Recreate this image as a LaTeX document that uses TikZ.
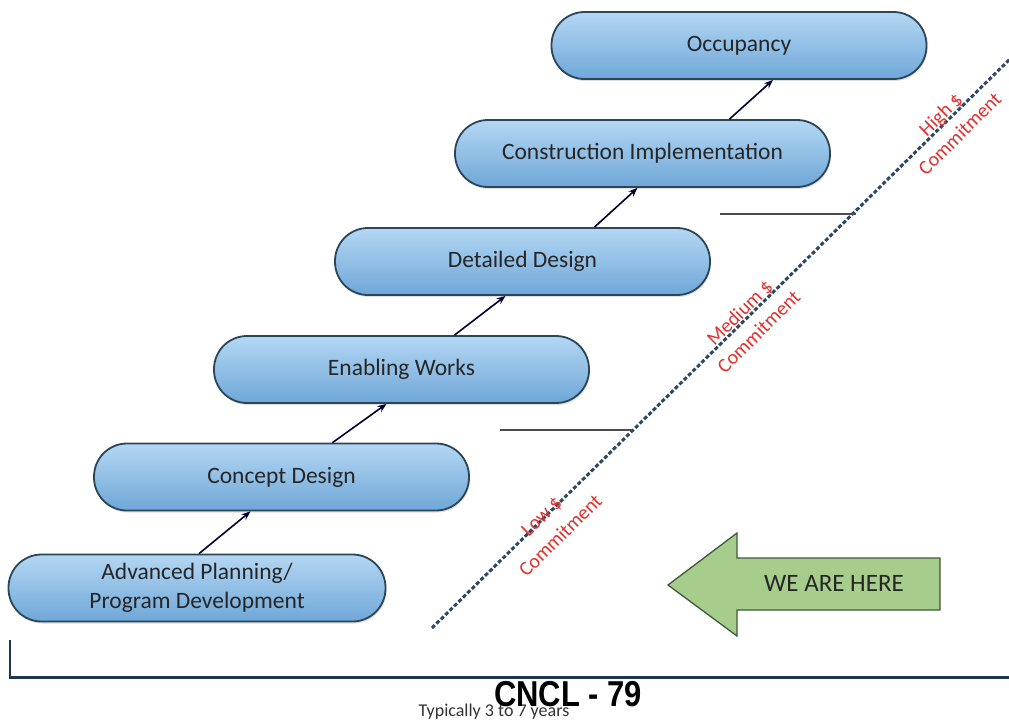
\documentclass[tikz,border=0pt]{standalone}
\usepackage{fontspec}
\setmainfont{Carlito}
\newfontfamily\stampfont{Liberation Sans}
\usetikzlibrary{arrows.meta,calc,shadows}
\definecolor{boxtop}{HTML}{B4D7F3}
\definecolor{boxbot}{HTML}{6FA7D8}
\definecolor{boxline}{HTML}{2B4658}
\definecolor{dashcol}{HTML}{2E4763}
\definecolor{redtxt}{HTML}{E2302E}
\definecolor{greenfill}{HTML}{A6CD8C}
\definecolor{greenline}{HTML}{3F5A3A}
\definecolor{axiscol}{HTML}{1F3650}
\tikzset{
  stage/.style={draw=boxline, line width=1.8pt, rounded corners=33pt,
    top color=boxtop, bottom color=boxbot,
    minimum width=375pt, minimum height=67pt, inner sep=0pt,
    align=center, text=black!85, font=\fontsize{23.5}{29}\selectfont,
    drop shadow={shadow xshift=1pt, shadow yshift=-2pt, opacity=0.25}},
  stepline/.style={-{Stealth[length=9pt,width=7pt]}, line width=1.6pt, draw=black!80!blue},
  commit/.style={text=redtxt, font=\fontsize{20}{27}\selectfont, align=center, rotate=44.6, inner sep=0pt},
  tick/.style={draw=black!70, line width=1.5pt},
}
\begin{document}
\begin{tikzpicture}[x=1pt,y=-1pt]
\useasboundingbox (0,0) rectangle (1009,724);
\fill[white] (0,0) rectangle (1009,724);

% dashed commitment line
\coordinate (dlo) at (432,628);
\coordinate (dhi) at (1012,57);
\draw[dashcol, line width=3pt, dash pattern=on 4pt off 2.2pt] (dlo) -- (dhi);
\coordinate (t1a) at (500,430); \coordinate (t1b) at (633,430);
\coordinate (t2a) at (720,214); \coordinate (t2b) at (856,214);
\draw[tick] (t1a) -- (t1b);
\draw[tick] (t2a) -- (t2b);

% stages
\node[stage] (occ) at (739,45.5) {Occupancy};
\node[stage] (con) at (642.5,153.5) {Construction Implementation};
\node[stage] (det) at (522.5,261.5) {Detailed Design};
\node[stage] (ena) at (401.5,369.5) {Enabling Works};
\node[stage] (cdes) at (281.5,477) {Concept Design};
\node[stage, minimum width=377pt] (adv) at (197,588) {Advanced Planning/\\Program Development};

\draw[stepline] ([xshift=2pt]adv.north) -- ([xshift=-31pt]cdes.south);
\draw[stepline] ([xshift=51pt]cdes.north) -- ([xshift=-15pt]ena.south);
\draw[stepline] ([xshift=53pt]ena.north) -- ([xshift=-17pt]det.south);
\draw[stepline] ([xshift=72pt]det.north) -- ([xshift=-5pt]con.south);
\draw[stepline] ([xshift=87pt]con.north) -- ([xshift=34pt]occ.south);

% commitment labels
\node[commit] (lowc) at (551,526) {Low \$\\Commitment};
\node[commit] (medc) at (749,322) {Medium \$\\Commitment};
\node[commit] (highc) at (950,124) {High \$\\Commitment};

% we are here arrow
\draw[fill=greenfill, draw=greenline, line width=1.3pt, line join=miter]
  (668,585) -- (737,533) -- (737,558) -- (940,558) -- (940,610) -- (737,610) -- (737,636) -- cycle;
\node[font=\fontsize{25}{26}\selectfont, text=black!85] (here) at (834,583) {WE ARE HERE};

% timeline axis
\coordinate (ax0) at (10,640);
\coordinate (ax1) at (10,677.5);
\coordinate (ax2) at (1009,677.5);
\draw[axiscol, line width=2.5pt] (ax0) -- (ax1) -- (ax2);
\node[font=\fontsize{18}{18}\selectfont, text=black!80, inner sep=0pt] (yrs) at (494,712) {Typically 3 to 7 years};
\node[font=\stampfont\bfseries\fontsize{36}{36}\selectfont, xscale=0.86, inner sep=0pt] (cncl) at (568,694) {CNCL - 79};
\end{tikzpicture}
\end{document}
